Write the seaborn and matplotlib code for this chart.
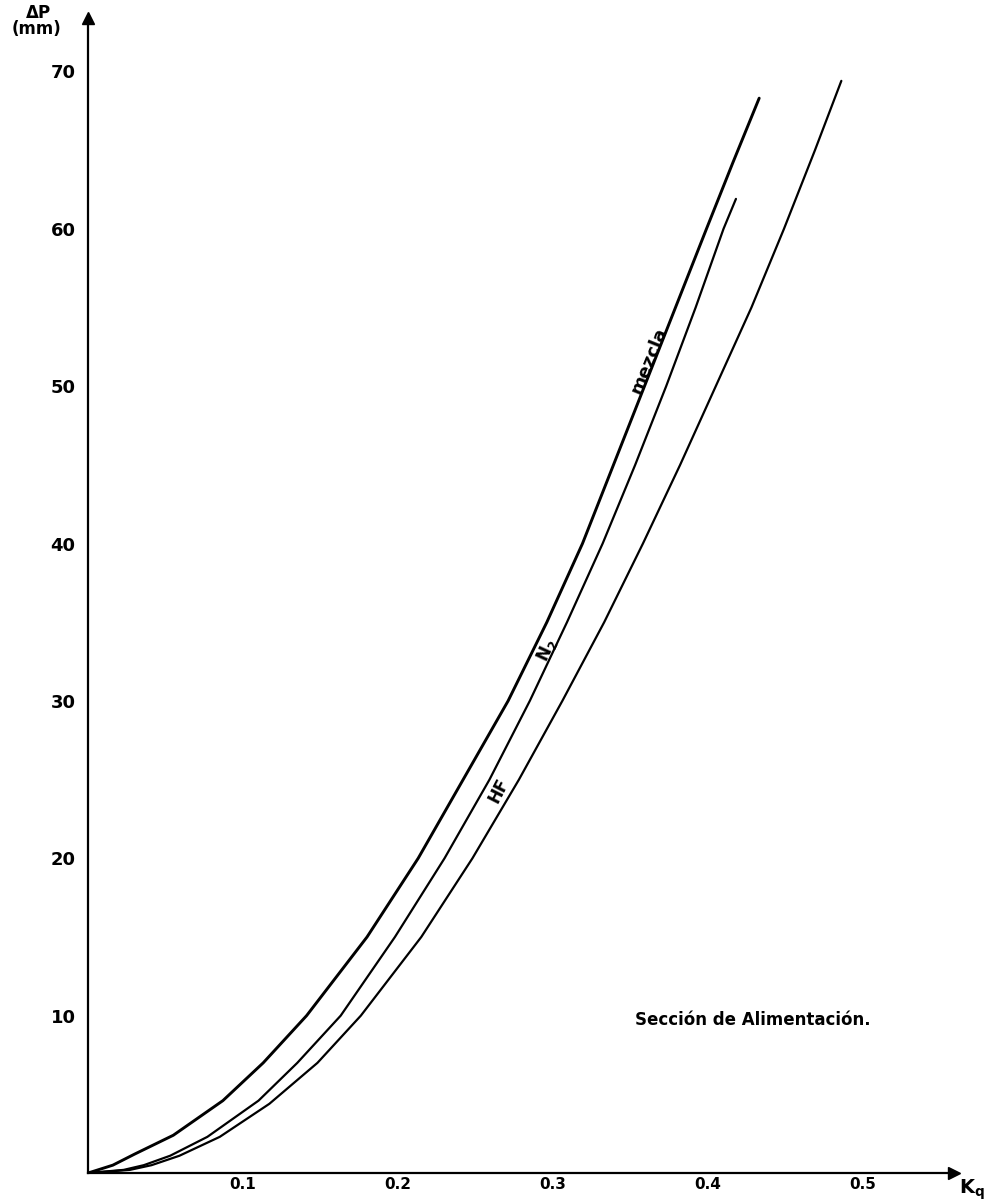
import numpy as np
import pandas as pd
import seaborn as sns
import matplotlib.pyplot as plt

sns.set_style("white")
plt.rcParams['font.family'] = ['DejaVu Sans']

# valores (Kq, delta P en mm)
mezcla_kq = [0, 0.016, 0.030, 0.055, 0.087, 0.113, 0.141, 0.180, 0.213, 0.242, 0.271,
             0.296, 0.319, 0.339, 0.359, 0.379, 0.399, 0.416, 0.433]
mezcla_dp = [0, 0.5, 1.2, 2.4, 4.6, 7, 10, 15, 20, 25, 30, 35, 40, 45, 50, 55, 60, 64.2, 68.3]
n2_kq = [0, 0.023, 0.036, 0.053, 0.077, 0.110, 0.135, 0.163, 0.198, 0.230, 0.259, 0.285,
         0.309, 0.332, 0.353, 0.373, 0.392, 0.410, 0.418]
n2_dp = [0, 0.2, 0.5, 1.1, 2.3, 4.6, 7, 10, 15, 20, 25, 30, 35, 40, 45, 50, 55, 60, 61.9]
hf_kq = [0, 0.027, 0.041, 0.059, 0.085, 0.117, 0.148, 0.176, 0.215, 0.248, 0.278, 0.306,
         0.333, 0.358, 0.382, 0.405, 0.428, 0.449, 0.469, 0.486]
hf_dp = [0, 0.2, 0.5, 1.1, 2.3, 4.4, 7, 10, 15, 20, 25, 30, 35, 40, 45, 50, 55, 60, 65, 69.4]

xticks = [0.1, 0.2, 0.3, 0.4, 0.5]
yticks = [10, 20, 30, 40, 50, 60, 70]

fig = plt.figure(figsize=(9.97, 12.02), dpi=100)
ax = fig.add_axes([0.0883, 0.0241, 0.8686, 0.961])

sns.lineplot(x=mezcla_kq, y=mezcla_dp, sort=False, color='black', lw=2.1, ax=ax)
sns.lineplot(x=n2_kq, y=n2_dp, sort=False, color='black', lw=1.6, ax=ax)
sns.lineplot(x=hf_kq, y=hf_dp, sort=False, color='black', lw=1.6, ax=ax)

ax.set_xlim(0, 0.5587)
ax.set_ylim(0, 73.4)
ax.set_xlabel('')
ax.set_ylabel('')
sns.despine(ax=ax)
for s in ['left', 'bottom']:
    ax.spines[s].set_linewidth(1.6)
    ax.spines[s].set_color('black')

ax.set_xticks(xticks)
ax.set_xticklabels(['0.1', '0.2', '0.3', '0.4', '0.5'], fontsize=11, fontweight='bold')
ax.set_yticks(yticks)
ax.set_yticklabels([str(v) for v in yticks], fontsize=13, fontweight='bold')
ax.tick_params(axis='x', direction='in', length=6, width=1.2, pad=3, colors='black')
ax.tick_params(axis='y', direction='inout', length=10, width=1.2, pad=4, colors='black')

# flechas de los ejes
ax.plot(1, 0, '>k', ms=9, transform=ax.get_yaxis_transform(), clip_on=False)
ax.plot(0, 1, '^k', ms=9, transform=ax.get_xaxis_transform(), clip_on=False)

fig.text(0.038, 0.989, r'$\mathbf{\Delta}$P', fontsize=12, fontweight='bold',
         ha='center', va='center', color='black')
fig.text(0.037, 0.976, '(mm)', fontsize=12, fontweight='bold',
         ha='center', va='center', color='black')
fig.text(0.962, 0.010, r'K$_\mathregular{q}$', fontsize=14, fontweight='bold',
         ha='left', va='center', color='black')

ax.text(0.362, 51.6, 'mezcla', rotation=68, fontsize=13, fontweight='bold',
        ha='center', va='center', color='black')
ax.text(0.296, 33.2, 'N$_\\mathregular{2}$', rotation=65, fontsize=12, fontweight='bold',
        ha='center', va='center', color='black')
ax.text(0.265, 24.3, 'HF', rotation=63, fontsize=12, fontweight='bold',
        ha='center', va='center', color='black')
ax.text(0.353, 9.75, 'Sección de Alimentación.', fontsize=12, fontweight='bold',
        ha='left', va='center', color='black')

fig.savefig('out.png', dpi=100)
